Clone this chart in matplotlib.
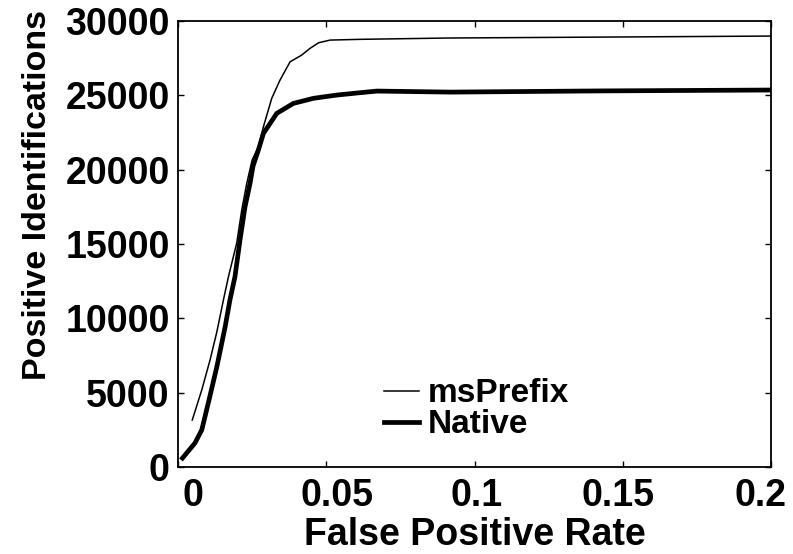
import matplotlib.pyplot as plt
from matplotlib.transforms import ScaledTranslation

plt.rcParams["font.family"] = ["Liberation Sans", "DejaVu Sans"]
plt.rcParams["font.weight"] = "bold"

# msPrefix curve (thin)
ms_fpr = [0.0048, 0.0080, 0.0108, 0.0131, 0.0153, 0.0170, 0.0198, 0.0215,
          0.0232, 0.0250, 0.0271, 0.0288, 0.0316, 0.0344, 0.0378, 0.0417,
          0.0445, 0.0474, 0.0513, 0.0614, 0.0917, 0.142, 0.2]
ms_ids = [3160, 5180, 7200, 9100, 11230, 12800, 15070, 17290,
          19100, 20650, 21540, 22890, 24800, 26030, 27260, 27710,
          28160, 28540, 28720, 28770, 28860, 28920, 28990]

# Native curve (thick)
nat_fpr = [0.0015, 0.0057, 0.0080, 0.0102, 0.0131, 0.0159, 0.0175, 0.0192,
           0.0209, 0.0226, 0.0243, 0.0253, 0.0271, 0.0288, 0.0333, 0.0389,
           0.0456, 0.0535, 0.0614, 0.0671, 0.0917, 0.142, 0.2]
nat_ids = [600, 1610, 2490, 4300, 6750, 9440, 11230, 12800,
           15270, 17510, 19100, 20250, 21320, 22440, 23790, 24460,
           24800, 25020, 25180, 25290, 25220, 25300, 25360]

x_ticks = [0, 0.05, 0.1, 0.15, 0.2]
x_labels = ["0", "0.05", "0.1", "0.15", "0.2"]

fig = plt.figure(figsize=(7.93, 5.54), dpi=100)
ax = fig.add_axes([0.2245, 0.157, 0.7478, 0.805])

ax.plot(ms_fpr, ms_ids, color="black", lw=1.1, label="msPrefix")
ax.plot(nat_fpr, nat_ids, color="black", lw=3.4, label="Native")

ax.set_xlim(0, 0.2)
ax.set_ylim(0, 30000)
ax.set_xticks(x_ticks)
ax.set_xticklabels(x_labels)
ax.set_yticks(range(0, 30001, 5000))

ax.tick_params(direction="in", top=True, right=True, length=4, width=1,
               labelsize=27)
ax.tick_params(axis="x", pad=8)
ax.tick_params(axis="y", pad=6)
for s in ax.spines.values():
    s.set_linewidth(1.3)

# tick labels sit a bit off their ticks in the original
shifts = [15, 11, 2, -5, -11]
for lab, dx in zip(ax.get_xticklabels(), shifts):
    lab.set_transform(lab.get_transform() + ScaledTranslation(dx / 100, 0, fig.dpi_scale_trans))

ax.set_xlabel("False Positive Rate", fontsize=27, fontweight="bold", labelpad=2)
ax.set_ylabel("Positive Identifications", fontsize=24.5, fontweight="bold")
ax.yaxis.set_label_coords(-0.21, 0.61)

ax.legend(loc="lower left", bbox_to_anchor=(0.325, 0.03), frameon=False,
          fontsize=24, handlelength=1.05, handletextpad=0.25, labelspacing=0.0,
          borderaxespad=0)

fig.savefig("out.png", dpi=100)
